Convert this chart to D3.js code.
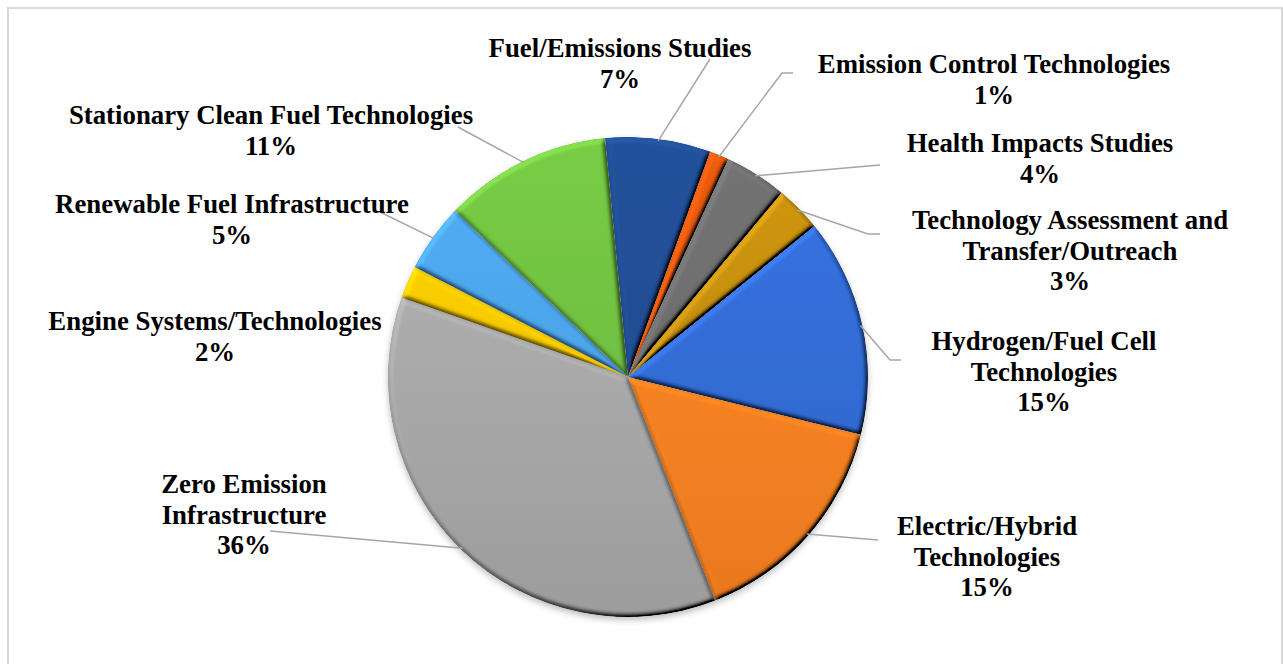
<!doctype html>
<html>
<head>
<meta charset="utf-8"/>
<script src="https://cdnjs.cloudflare.com/ajax/libs/d3/7.8.5/d3.min.js"></script>
<style>
  body { margin: 0; background: #fff; }
  .lbl { font-family: "Liberation Serif", "Times New Roman", serif; font-weight: bold; font-size: 26.8px; fill: #000; }
  .leader { stroke: #A6A6A6; stroke-width: 1.5px; fill: none; }
</style>
</head>
<body>
<svg width="1283" height="664"></svg>
<script>
// slices clockwise from the top
var categories = ["Fuel/Emissions Studies", "Emission Control Technologies", "Health Impacts Studies",
  "Technology Assessment and Transfer/Outreach", "Hydrogen/Fuel Cell Technologies", "Electric/Hybrid Technologies",
  "Zero Emission Infrastructure", "Engine Systems/Technologies", "Renewable Fuel Infrastructure",
  "Stationary Clean Fuel Technologies"];
var values = [7.1, 1.3, 4.2, 3.1, 14.7, 15.2, 36.3, 2.2, 4.6, 11.3];
var pctLabels = ["7%", "1%", "4%", "3%", "15%", "15%", "36%", "2%", "5%", "11%"];
var labelLines = [
  ["Fuel/Emissions Studies"],
  ["Emission Control Technologies"],
  ["Health Impacts Studies"],
  ["Technology Assessment and", "Transfer/Outreach"],
  ["Hydrogen/Fuel Cell", "Technologies"],
  ["Electric/Hybrid", "Technologies"],
  ["Zero Emission", "Infrastructure"],
  ["Engine Systems/Technologies"],
  ["Renewable Fuel Infrastructure"],
  ["Stationary Clean Fuel Technologies"]
];
var colors = ["#1F4A8E", "#D8540F", "#6A6A6A", "#BE8A10", "#3169D0", "#F67F20", "#A5A5A5", "#F5C300", "#4A9FE2", "#6DBB3F"];

// label anchor (centre x, first baseline) and leader line bend point
var labelPos = [[620, 57], [994, 73], [1040, 152], [1070, 229], [1044, 350], [987, 535], [244, 493], [215, 330], [232, 213], [271, 124]];
var leaderEnds = [[[710, 59]], [[793, 73], [782, 73]], [[880, 165]], [[880, 234], [868, 234]], [[901, 360], [890, 360]],
  [[878, 540]], [[270, 531]], null, [[380, 212]], [[458, 127]]];

var cx = 628, cy = 377, r = 240;
var startDeg = -5.5;

var svg = d3.select("svg");

svg.append("rect")
  .attr("x", 8).attr("y", 8).attr("width", 1274).attr("height", 700)
  .attr("fill", "#fff").attr("stroke", "#D9D9D9").attr("stroke-width", 2);

var defs = svg.append("defs");

// bevel-ish lighting for each slice
var f = defs.append("filter").attr("id", "bevel")
  .attr("x", "-5%").attr("y", "-5%").attr("width", "110%").attr("height", "110%");
f.append("feGaussianBlur").attr("in", "SourceAlpha").attr("stdDeviation", 2.5).attr("result", "blur");
f.append("feDiffuseLighting").attr("in", "blur").attr("surfaceScale", 5).attr("diffuseConstant", 1)
  .attr("lighting-color", "#fff").attr("result", "diff")
  .append("feDistantLight").attr("azimuth", 235).attr("elevation", 50);
f.append("feComposite").attr("in", "SourceGraphic").attr("in2", "diff")
  .attr("operator", "arithmetic").attr("k1", 1.32).attr("k2", 0).attr("k3", 0).attr("k4", 0).attr("result", "lit");
f.append("feComposite").attr("in", "lit").attr("in2", "SourceAlpha").attr("operator", "in");

var sh = defs.append("filter").attr("id", "shadow")
  .attr("x", "-10%").attr("y", "-10%").attr("width", "120%").attr("height", "120%");
sh.append("feGaussianBlur").attr("in", "SourceAlpha").attr("stdDeviation", 3);

colors.forEach(function(c, i) {
  var g = defs.append("linearGradient").attr("id", "grad" + i)
    .attr("gradientUnits", "userSpaceOnUse")
    .attr("x1", 0).attr("y1", -r).attr("x2", 0).attr("y2", r);
  g.append("stop").attr("offset", "0%").attr("stop-color", d3.color(c).brighter(0.25));
  g.append("stop").attr("offset", "100%").attr("stop-color", d3.color(c).darker(0.15));
});

var data = categories.map(function(name, i) { return {name: name, value: values[i], i: i}; });

var pie = d3.pie().sort(null).value(function(d) { return d.value; })
  .startAngle(startDeg * Math.PI / 180).endAngle((startDeg + 360) * Math.PI / 180);
var arc = d3.arc().innerRadius(0).outerRadius(r);
var arcs = pie(data);

var pg = svg.append("g").attr("transform", "translate(" + cx + "," + cy + ")");

pg.append("circle").attr("r", r).attr("cy", 3).attr("fill", "rgba(0,0,0,0.25)").attr("filter", "url(#shadow)");

pg.selectAll("path.slice")
  .data(arcs)
  .enter()
  .append("path")
  .attr("class", "slice")
  .attr("d", arc)
  .attr("fill", function(d) { return "url(#grad" + d.data.i + ")"; })
  .attr("filter", "url(#bevel)");

// leader lines
var edgeArc = d3.arc().innerRadius(r - 2).outerRadius(r - 2);
arcs.forEach(function(d, i) {
  if (!leaderEnds[i]) return;
  var p = edgeArc.centroid(d);
  var pts = leaderEnds[i].map(function(q) { return [q[0], q[1]]; });
  pts.push([p[0] + cx, p[1] + cy]);
  svg.append("path").attr("class", "leader").attr("d", d3.line()(pts));
});

// labels
var lg = svg.append("g");
labelLines.forEach(function(lines, i) {
  var t = lg.append("text").attr("class", "lbl").attr("text-anchor", "middle")
    .attr("x", labelPos[i][0]).attr("y", labelPos[i][1]);
  lines.concat([pctLabels[i]]).forEach(function(s, k) {
    t.append("tspan").attr("x", labelPos[i][0]).attr("dy", k === 0 ? 0 : 30.5).text(s);
  });
});
</script>
</body>
</html>
